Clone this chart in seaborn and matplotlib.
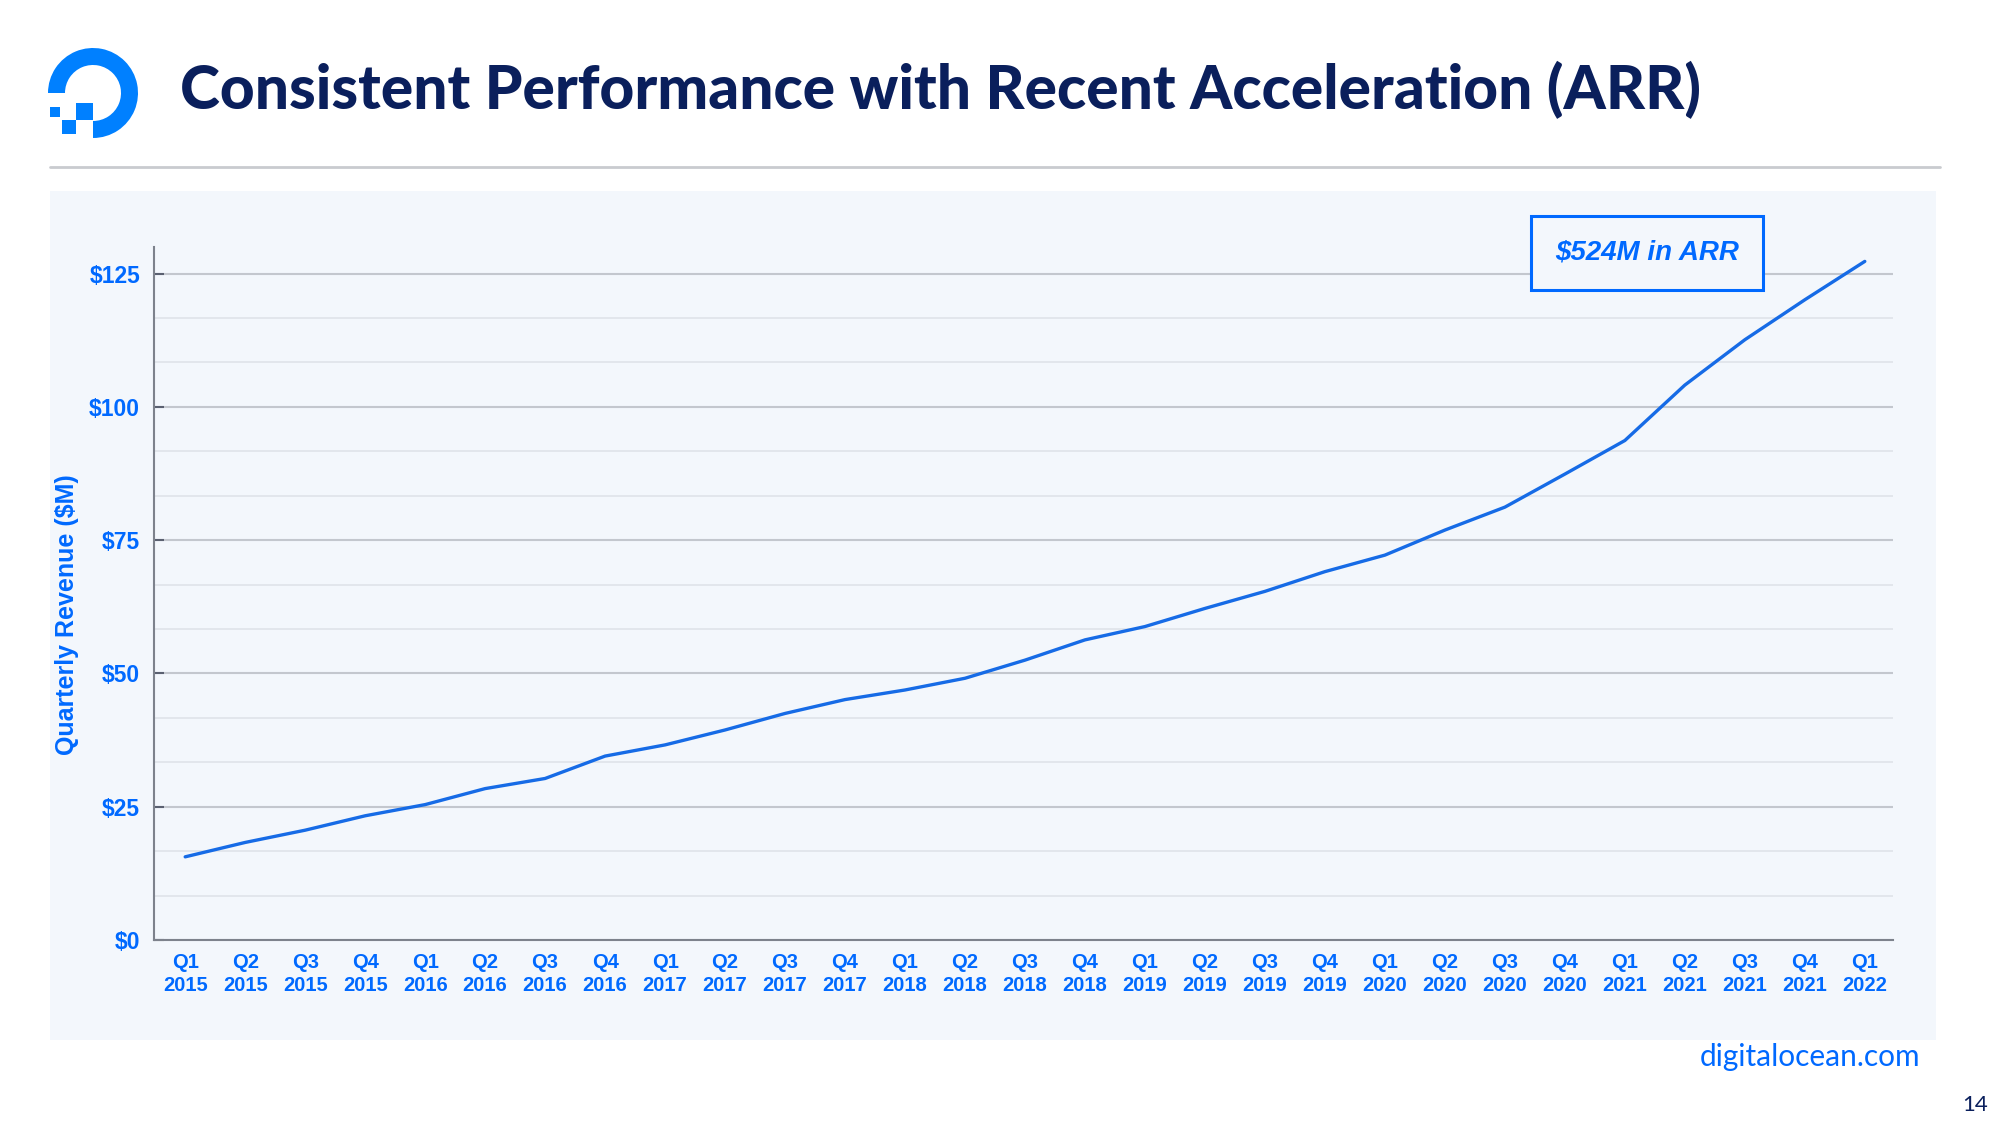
import matplotlib
matplotlib.use("Agg")
import matplotlib.pyplot as plt
import matplotlib.patches as mpatches
from matplotlib.ticker import FixedLocator
from matplotlib.transforms import IdentityTransform
import seaborn as sns
import pandas as pd

# ---------------- data ----------------
quarter_labels = [
    "Q1\n2015", "Q2\n2015", "Q3\n2015", "Q4\n2015",
    "Q1\n2016", "Q2\n2016", "Q3\n2016", "Q4\n2016",
    "Q1\n2017", "Q2\n2017", "Q3\n2017", "Q4\n2017",
    "Q1\n2018", "Q2\n2018", "Q3\n2018", "Q4\n2018",
    "Q1\n2019", "Q2\n2019", "Q3\n2019", "Q4\n2019",
    "Q1\n2020", "Q2\n2020", "Q3\n2020", "Q4\n2020",
    "Q1\n2021", "Q2\n2021", "Q3\n2021", "Q4\n2021",
    "Q1\n2022",
]
revenue = [15.6, 18.3, 20.6, 23.3, 25.4, 28.4, 30.3, 34.5,
           36.6, 39.4, 42.5, 45.1, 46.9, 49.1, 52.5, 56.3,
           58.8, 62.2, 65.4, 69.1, 72.2, 76.9, 81.2, 87.4,
           93.7, 104.1, 112.6, 120.1, 127.3]
y_ticks = [0, 25, 50, 75, 100, 125]
y_tick_labels = ["$0", "$25", "$50", "$75", "$100", "$125"]

title = "Consistent Performance with Recent Acceleration (ARR)"
y_label = "Quarterly Revenue ($M)"
callout = "$524M in ARR"
footer = "digitalocean.com"
page_no = "14"

# ---------------- style ----------------
BLUE = "#0069FF"
LINE = "#166BE6"
NAVY = "#0A1F5C"
PANEL = "#F3F7FC"
W, H = 2000, 1125

sns.set_theme(style="white")
plt.rcParams["font.family"] = ["Liberation Sans", "DejaVu Sans"]

fig = plt.figure(figsize=(W / 100, H / 100), dpi=100)
fig.patch.set_facecolor("white")
pt = IdentityTransform()

def fx(px):
    return px / W

def fy(py):
    return 1 - py / H

def px_y(py):
    return H - py

# panel background
fig.patches.append(mpatches.Rectangle((50, px_y(1040)), 1886, 849, transform=pt,
                                      facecolor=PANEL, edgecolor="none", zorder=-5))
# header rule
fig.add_artist(plt.Line2D([50, 1940], [px_y(167), px_y(167)], transform=pt,
                          color="#C9CBCF", lw=2, zorder=-4))

# logo
cx, cy = 93, 93
logo_col = "#0080FF"
fig.patches.append(mpatches.Wedge((cx, px_y(cy)), 45, -90, 180, width=17,
                                  transform=pt, facecolor=logo_col, edgecolor="none"))
for (x0, y0, s) in [(76, 103, 17), (62, 120, 14), (50, 107, 10)]:
    fig.patches.append(mpatches.Rectangle((x0, px_y(y0 + s)), s, s, transform=pt,
                                          facecolor=logo_col, edgecolor="none"))

# title
fig.text(fx(180), fy(90), title, fontsize=43.5, fontweight="black", color=NAVY,
         family=["Lato", "DejaVu Sans"], ha="left", va="center")

# ---------------- axes ----------------
ax = fig.add_axes([fx(154), fy(940), fx(1893) - fx(154), fy(247) - fy(940)])
ax.set_facecolor("none")
ax.set_zorder(2)

df = pd.DataFrame({"q": range(len(revenue)), "revenue": revenue})
sns.lineplot(data=df, x="q", y="revenue", ax=ax, color=LINE, linewidth=2.4, zorder=5)

ax.set_ylim(0, 130)
ax.set_xlim(-0.52, len(revenue) - 1 + 0.47)

ax.set_yticks(y_ticks)
ax.set_yticklabels(y_tick_labels)
ax.yaxis.set_minor_locator(FixedLocator([v + k * 25 / 3 for v in y_ticks[:-1] for k in (1, 2)]
                                        + [125 + 25 / 3]))
ax.set_xticks(list(range(len(quarter_labels))))
ax.set_xticklabels(quarter_labels)

ax.grid(False)
ax.yaxis.grid(True, which="major", color="#C3C7CE", linewidth=1.5, zorder=1)
ax.yaxis.grid(True, which="minor", color="#DEE2E8", linewidth=1.1, zorder=1)
ax.set_axisbelow(True)

for s in ["top", "right"]:
    ax.spines[s].set_visible(False)
for s in ["left", "bottom"]:
    ax.spines[s].set_color("#7D828C")
    ax.spines[s].set_linewidth(1.5)

ax.tick_params(axis="y", which="major", direction="in", length=7, width=1.5,
               color="#5A6070", labelsize=16.5, labelcolor=BLUE, pad=10, left=True)
ax.tick_params(axis="y", which="minor", length=0)
ax.tick_params(axis="x", length=0, labelsize=14.5, labelcolor=BLUE, pad=9)
for lab in ax.get_yticklabels() + ax.get_xticklabels():
    lab.set_fontweight("bold")
for lab in ax.get_xticklabels():
    lab.set_linespacing(1.32)

ax.set_xlabel("")
ax.set_ylabel(y_label, fontsize=18, fontweight="bold", color=BLUE)
ax.yaxis.set_label_coords(-0.043, 0.47)

# callout box
fig.patches.append(mpatches.Rectangle((1531, px_y(290)), 232, 74, transform=pt,
                                      facecolor=PANEL, edgecolor=BLUE, linewidth=2.2, zorder=6))
fig.text(fx(1647), fy(252), callout, fontsize=20, fontweight="bold", fontstyle="italic",
         color=BLUE, ha="center", va="center", zorder=7)

# footer
fig.text(fx(1920), fy(1057), footer, fontsize=21.5, color=BLUE, ha="right", va="center",
         family=["Lato", "DejaVu Sans"])
fig.text(fx(1988), fy(1105), page_no, fontsize=16, color=NAVY, ha="right", va="center",
         family=["Lato", "DejaVu Sans"])

fig.savefig("out.png", dpi=100, facecolor="white")
